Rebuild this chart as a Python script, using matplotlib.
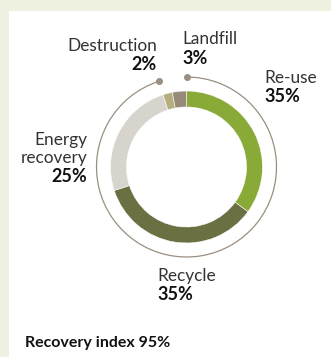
import numpy as np
import matplotlib
matplotlib.use("Agg")
import matplotlib.pyplot as plt
from matplotlib.patches import Rectangle, Arc

# Anteile der Verwertungswege (im Uhrzeigersinn ab 12 Uhr)
categories = ["Re-use", "Recycle", "Energy recovery", "Destruction", "Landfill"]
shares = [35, 35, 25, 2, 3]
colors = ["#8aaa38", "#6a7042", "#d6d4cc", "#b4ad7e", "#968b7a"]
recovery_index = 95

W, H = 331, 357
plt.rcParams["font.family"] = ["Lato", "DejaVu Sans"]

fig = plt.figure(figsize=(W / 100, H / 100), dpi=100)
fig.patch.set_facecolor("#eef0e0")
ax = fig.add_axes([0, 0, 1, 1])

# weisse Karte
ax.add_patch(Rectangle((9, 0), W - 9, H - 11, facecolor="white", edgecolor="none", zorder=0))

cx, cy = 186.5, H - 167
ax.pie(shares, colors=colors, startangle=90, counterclock=False, radius=76,
       center=(cx, cy), frame=True,
       wedgeprops=dict(width=16, edgecolor="white", linewidth=0.4))

# aeusserer Bogen fuer den Verwertungsindex
r_arc = 90
gap = (100 - recovery_index) / 100 * 360
ax.add_patch(Arc((cx, cy), 2 * r_arc, 2 * r_arc, theta1=90 + gap, theta2=450,
                 color="#9a8f80", lw=0.9, zorder=3))
for ang in (90, 90 + gap):
    a = np.deg2rad(ang)
    ax.plot(cx + r_arc * np.cos(a), cy + r_arc * np.sin(a), "o",
            color="#9a8f80", ms=4, zorder=4)

ax.set_xlim(0, W)
ax.set_ylim(0, H)
ax.set_aspect("auto")
ax.axis("off")

txt = dict(fontsize=12.4, color="#333333", va="center")
bold = dict(fontsize=13, color="#111111", va="center", fontweight="bold")


def label(x, y, name, value, ha):
    lines = name.split("\n")
    for i, line in enumerate(lines):
        ax.text(x, H - (y + i * 18), line, ha=ha, **txt)
    ax.text(x, H - (y + len(lines) * 18 + 1), f"{value}%", ha=ha, **bold)


label(157, 46, "Destruction", shares[3], "right")
label(182, 39, "Landfill", shares[4], "left")
label(264, 78, "Re-use", shares[0], "left")
label(87, 140, "Energy\nrecovery", shares[2], "right")
label(157, 276, "Recycle", shares[1], "left")

ax.text(25, H - 343, f"Recovery index {recovery_index}%", ha="left", va="center",
        fontsize=11.5, fontweight="bold", color="#111111")

fig.savefig("out.png", dpi=100, facecolor=fig.get_facecolor())
